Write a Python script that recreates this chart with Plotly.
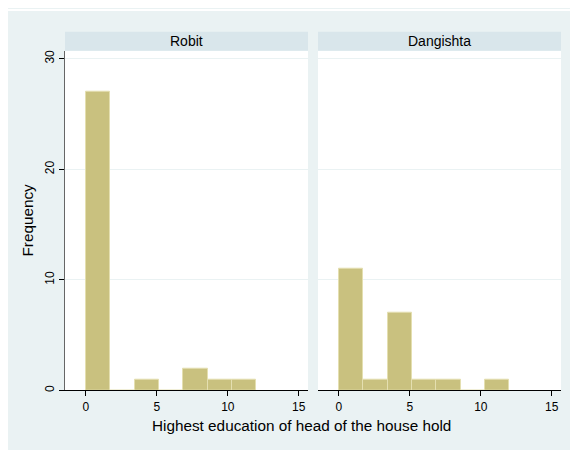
import plotly.graph_objects as go

# Data: histogram bins (edges) and counts
bin_edges = [0, 12/7, 24/7, 36/7, 48/7, 60/7, 72/7, 12]
robit_counts = [27, 0, 1, 0, 2, 1, 1]
dangishta_counts = [11, 1, 7, 1, 1, 0, 1]
panels = ["Robit", "Dangishta"]
x_ticks = [0, 5, 10, 15]
y_ticks = [0, 10, 20, 30]

# page body has an 8px margin; figure is laid out in page pixels minus that offset
OFF = 8
W, H = 570, 442
centers = [(bin_edges[i] + bin_edges[i + 1]) / 2 for i in range(len(bin_edges) - 1)]
widths = [bin_edges[i + 1] - bin_edges[i] for i in range(len(bin_edges) - 1)]

BAR = "#c9c17f"
BAR_LINE = "#e4dfb0"
OUTER = "#eaf2f3"
STRIP = "#d9e6eb"
FONT = "Liberation Sans, Arial, sans-serif"

fig = go.Figure()
for i, counts in enumerate([robit_counts, dangishta_counts]):
    fig.add_trace(go.Bar(
        x=centers, y=counts, width=widths,
        marker=dict(color=BAR, line=dict(color=BAR_LINE, width=1)),
        xaxis="x" if i == 0 else "x2", yaxis="y" if i == 0 else "y2",
        showlegend=False, hoverinfo="x+y",
    ))

def px_x(p):
    return (p - OFF) / W

def px_y(p):
    return 1 - (p - OFF) / H

dom_left = [px_x(65), px_x(308)]
dom_right = [px_x(318), px_x(561)]
dom_y = [px_y(392), px_y(50)]

xr = [-1.47, 15.65]
yr = [0, 30.72]

common_x = dict(range=xr, tickvals=x_ticks, ticks="outside", ticklen=5, tickcolor="black",
                showline=True, linecolor="black", linewidth=1, showgrid=False, zeroline=False,
                tickfont=dict(family=FONT, size=12, color="black"), fixedrange=True)
common_y = dict(range=yr, tickvals=y_ticks, gridcolor=OUTER, gridwidth=1, zeroline=False,
                fixedrange=True)

fig.update_layout(
    width=W, height=H,
    margin=dict(l=0, r=0, t=0, b=0),
    paper_bgcolor=OUTER, plot_bgcolor="white",
    bargap=0,
    xaxis=dict(domain=dom_left, anchor="y", **common_x),
    xaxis2=dict(domain=dom_right, anchor="y2", **common_x),
    yaxis=dict(domain=dom_y, anchor="x", showline=True, linecolor="#666666", linewidth=1,
               ticks="outside", ticklen=5, tickcolor="black", tickangle=-90,
               tickfont=dict(family=FONT, size=12, color="black"), **common_y),
    yaxis2=dict(domain=dom_y, anchor="x2", showline=False, showticklabels=False, ticks="",
                matches="y", **common_y),
    shapes=[
        dict(type="rect", xref="paper", yref="paper", x0=0, x1=1, y0=px_y(10), y1=1,
             fillcolor="white", line=dict(width=0), layer="below"),
        dict(type="rect", xref="paper", yref="paper", x0=dom_left[0], x1=dom_left[1],
             y0=px_y(50), y1=px_y(31), fillcolor=STRIP, line=dict(width=0), layer="below"),
        dict(type="rect", xref="paper", yref="paper", x0=dom_right[0], x1=dom_right[1],
             y0=px_y(50), y1=px_y(31), fillcolor=STRIP, line=dict(width=0), layer="below"),
    ],
    annotations=[
        dict(text=panels[0], xref="paper", yref="paper", x=sum(dom_left) / 2, y=px_y(40.5),
             showarrow=False, font=dict(family=FONT, size=14, color="black"),
             xanchor="center", yanchor="middle"),
        dict(text=panels[1], xref="paper", yref="paper", x=sum(dom_right) / 2, y=px_y(40.5),
             showarrow=False, font=dict(family=FONT, size=14, color="black"),
             xanchor="center", yanchor="middle"),
        dict(text="Highest education of head of the house hold", xref="paper", yref="paper",
             x=px_x(301.5), y=px_y(427), showarrow=False,
             font=dict(family=FONT, size=15.3, color="black"), xanchor="center", yanchor="middle"),
        dict(text="Frequency", xref="paper", yref="paper", x=px_x(28), y=px_y(221),
             showarrow=False, textangle=-90, font=dict(family=FONT, size=15.3, color="black"),
             xanchor="center", yanchor="middle"),
    ],
)

fig.write_html("out.html")
